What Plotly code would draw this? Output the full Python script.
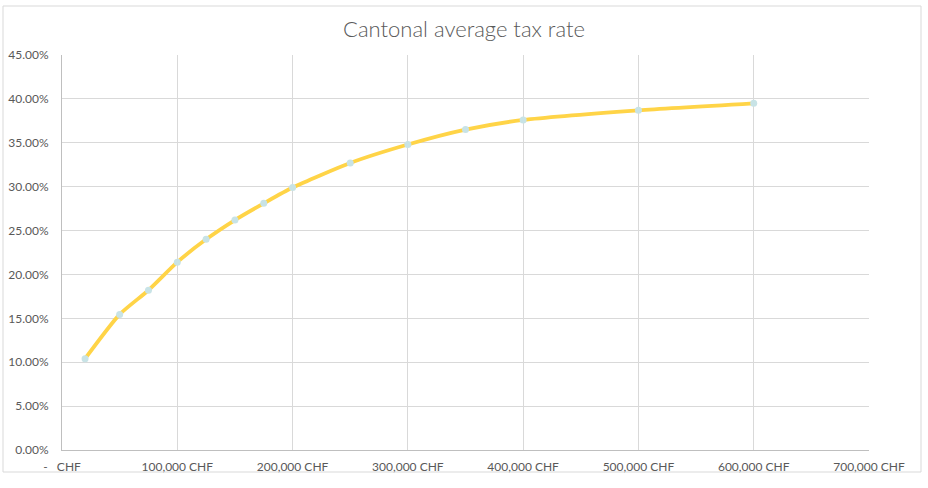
import plotly.graph_objects as go

income = [20000, 50000, 75000, 100000, 125000, 150000, 175000, 200000,
          250000, 300000, 350000, 400000, 500000, 600000]
tax_rate = [0.104, 0.1545, 0.182, 0.214, 0.240, 0.262, 0.281, 0.299,
            0.327, 0.348, 0.365, 0.376, 0.387, 0.395]

x_ticks = [0, 100000, 200000, 300000, 400000, 500000, 600000, 700000]
x_labels = ["-\u00a0\u00a0\u00a0CHF", "100,000 CHF", "200,000 CHF", "300,000 CHF",
            "400,000 CHF", "500,000 CHF", "600,000 CHF", "700,000 CHF"]
y_ticks = [0, 0.05, 0.10, 0.15, 0.20, 0.25, 0.30, 0.35, 0.40, 0.45]

font_family = "Century Gothic, Lato, DejaVu Sans, sans-serif"
text_color = "#595959"

fig = go.Figure()
fig.add_trace(go.Scatter(
    x=income, y=tax_rate, mode="lines+markers",
    line=dict(color="#FFD447", width=3.8, shape="spline", smoothing=0.6),
    marker=dict(color="#C8E3E6", size=7),
    showlegend=False,
))

fig.update_layout(
    width=928, height=488,
    margin=dict(l=62, r=59, t=55, b=38),
    paper_bgcolor="white", plot_bgcolor="white",
    font=dict(family=font_family, color=text_color, size=12),
    title=dict(text="Cantonal average tax rate", x=0.5, xanchor="center",
               y=1 - 29 / 488, yanchor="middle",
               font=dict(size=22, color=text_color, family="Century Gothic, Lato Light, Lato, sans-serif",
                         weight=300)),
    xaxis=dict(range=[0, 700000], tickvals=x_ticks, ticktext=x_labels,
               showgrid=True, gridcolor="#D9D9D9", gridwidth=1,
               showline=True, linecolor="#BFBFBF", linewidth=1,
               ticks="", zeroline=False, ticklabelstandoff=6, automargin=False,
               tickfont=dict(size=12, color=text_color)),
    yaxis=dict(range=[0, 0.45], tickvals=y_ticks, tickformat=".2%",
               showgrid=True, gridcolor="#D9D9D9", gridwidth=1,
               showline=True, linecolor="#BFBFBF", linewidth=1,
               ticks="", zeroline=False, ticklabelstandoff=10, automargin=False,
               tickfont=dict(size=12, color=text_color)),
    shapes=[dict(type="rect", xref="paper", yref="paper",
                 x0=(3 - 62) / 807, x1=(921 - 62) / 807,
                 y0=(450 - 472) / 395, y1=(450 - 6) / 395,
                 line=dict(color="#D9D9D9", width=1), fillcolor="rgba(0,0,0,0)",
                 layer="below")],
)

fig.write_html("out.html")
